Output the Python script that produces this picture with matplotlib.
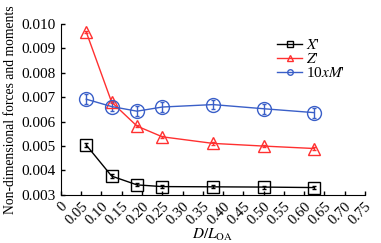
import numpy as np
import matplotlib
matplotlib.use("Agg")
import matplotlib.pyplot as plt

plt.rcParams['font.family'] = ['Liberation Serif', 'DejaVu Serif']
plt.rcParams['mathtext.fontset'] = 'stix'

# data
d_loa = [0.0625, 0.125, 0.1875, 0.25, 0.375, 0.5, 0.625]
x_force = [0.00504, 0.00377, 0.00341, 0.00334, 0.00333, 0.00332, 0.00330]
x_err = [0.00008, 0.00007, 0.00006, 0.00006, 0.00006, 0.00006, 0.00006]
z_force = [0.00967, 0.00680, 0.00582, 0.00538, 0.00511, 0.00500, 0.00490]
z_err = [0.00005, 0.00005, 0.00005, 0.00005, 0.00005, 0.00005, 0.00005]
m_moment = [0.00692, 0.00662, 0.00643, 0.00660, 0.00670, 0.00653, 0.00637]
m_err = [0.00020, 0.00020, 0.00020, 0.00020, 0.00020, 0.00020, 0.00020]

xticks = np.arange(0, 0.76, 0.05)
yticks = np.arange(0.003, 0.0101, 0.001)

fig = plt.figure(figsize=(3.81, 2.43), dpi=100)
ax = fig.add_axes([0.16, 0.198, 0.798, 0.703])

def series(y, err, color, marker, label, ms):
    ax.errorbar(d_loa, y, yerr=err, color=color, marker=marker, ms=ms,
                mfc='none', mec=color, mew=1.0, lw=1.0, elinewidth=1.0,
                capsize=1.5, capthick=1.0)
    ax.plot([], [], color=color, marker=marker, ms=4, mfc='none',
            mew=1.0, lw=1.0, label=label)

series(x_force, x_err, 'black', 's', "$X$'", 9)
series(z_force, z_err, '#ff3030', '^', "$Z$'", 9)
series(m_moment, m_err, '#3a5fc8', 'o', "10$xM$'", 10)

ax.set_xlim(0, 0.75)
ax.set_ylim(0.003, 0.010)
ax.set_xticks(xticks)
ax.set_xticklabels(['0'] + ['%.2f' % v for v in xticks[1:]], rotation=45,
                   ha='right', va='top', rotation_mode='anchor', fontsize=10.5)
ax.set_yticks(yticks)
ax.set_yticklabels(['%.3f' % v for v in yticks], fontsize=11)
ax.tick_params(direction='in', length=3, width=1)
ax.spines['top'].set_visible(False)
ax.spines['right'].set_visible(False)
ax.set_xlabel(r'$D/L_{\mathrm{OA}}$', fontsize=11, labelpad=0)
ax.set_ylabel('Non-dimensional forces and moments', fontsize=9.8)
ax.yaxis.set_label_coords(-0.145, 0.5)

ax.legend(loc='upper right', bbox_to_anchor=(0.965, 0.97), frameon=False,
          fontsize=11, handlelength=1.6, handletextpad=0.3,
          labelspacing=0.0, borderaxespad=0.2)

fig.savefig('out.png', dpi=100)
